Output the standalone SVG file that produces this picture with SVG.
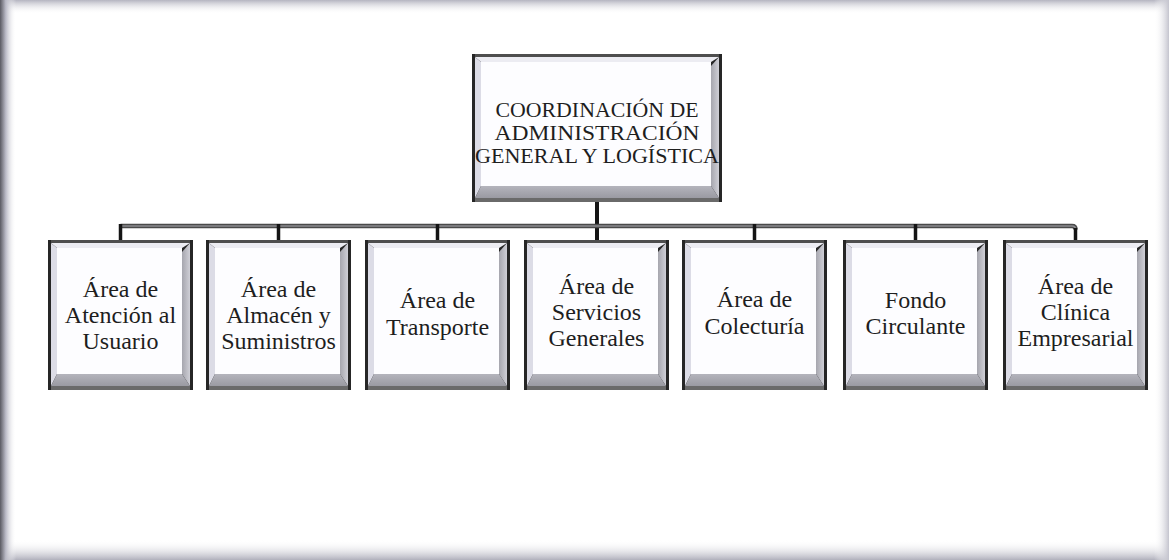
<svg xmlns="http://www.w3.org/2000/svg" xmlns:xlink="http://www.w3.org/1999/xlink" width="1169" height="560" viewBox="0 0 1169 560">
  <style>
    .lbl { font-family: "Liberation Serif", "DejaVu Serif", serif; font-size: 24px; fill: #1e1e1e; text-anchor: middle; }
    .top { font-family: "Liberation Serif", "DejaVu Serif", serif; font-size: 20px; fill: #1e1e1e; text-anchor: middle; }
    .hline { fill: none; stroke: #4a4a4a; stroke-width: 4.5; stroke-linejoin: round; }
    .hline2 { fill: none; stroke: #8c8c90; stroke-width: 1.6; stroke-linejoin: round; }
    .drop { stroke: #151515; stroke-width: 3.5; }
  </style>
  <defs>
    <linearGradient id="leftEdge" x1="0" y1="0" x2="1" y2="0">
      <stop offset="0" stop-color="#5a5a62"/>
      <stop offset="0.35" stop-color="#b8b8c4"/>
      <stop offset="1" stop-color="#ffffff" stop-opacity="0"/>
    </linearGradient>
    <linearGradient id="topEdge" x1="0" y1="0" x2="0" y2="1">
      <stop offset="0" stop-color="#b4b4c0"/>
      <stop offset="1" stop-color="#ffffff" stop-opacity="0"/>
    </linearGradient>
    <linearGradient id="botEdge" x1="0" y1="1" x2="0" y2="0">
      <stop offset="0" stop-color="#b0b0bc"/>
      <stop offset="1" stop-color="#ffffff" stop-opacity="0"/>
    </linearGradient>
    <linearGradient id="rightEdge" x1="1" y1="0" x2="0" y2="0">
      <stop offset="0" stop-color="#c4c4ce"/>
      <stop offset="1" stop-color="#ffffff" stop-opacity="0"/>
    </linearGradient>
    <linearGradient id="rbev" x1="0" y1="0" x2="1" y2="0">
      <stop offset="0" stop-color="#a6a6ae"/>
      <stop offset="1" stop-color="#cfcfd6"/>
    </linearGradient>
    <linearGradient id="bbev" x1="0" y1="0" x2="0" y2="1">
      <stop offset="0" stop-color="#b4b4bc"/>
      <stop offset="1" stop-color="#9a9aa2"/>
    </linearGradient>
    <g id="childbox">
      <rect x="0" y="0" width="145" height="150" fill="#262626"/>
      <rect x="3" y="0" width="139" height="3" fill="#4e4e4e"/>
      <rect x="3" y="146" width="139" height="4" fill="#6a6a6a"/>
      <polygon points="3,3 142,3 134,8 9,8" fill="#ececf2"/>
      <polygon points="3,3 9,8 9,134 3,146" fill="#dcdce6"/>
      <polygon points="142,3 142,146 134,134 134,12" fill="url(#rbev)"/>
      <polygon points="3,146 142,146 134,134 9,134" fill="url(#bbev)"/>
      <rect x="9" y="8" width="125" height="126" fill="#fdfdff"/>
    </g>
  </defs>

  <!-- page -->
  <rect x="0" y="0" width="1169" height="560" fill="#ffffff"/>
  <rect x="0" y="0" width="1169" height="14" fill="url(#topEdge)"/>
  <rect x="0" y="540" width="1169" height="20" fill="url(#botEdge)"/>
  <rect x="1154" y="0" width="15" height="560" fill="url(#rightEdge)"/>
  <rect x="0" y="0" width="16" height="560" fill="url(#leftEdge)"/>

  <!-- connectors -->
  <g id="connectors">
    <line class="drop" x1="597" y1="202" x2="597" y2="240" style="stroke-width:4"/>
    <path class="hline" d="M120.5,226 H1072 Q1075.5,226 1075.5,229.5"/>
    <path class="hline2" d="M120.5,226 H1072 Q1075.5,226 1075.5,229.5"/>
    <line class="drop" x1="120.5" y1="224" x2="120.5" y2="240"/>
    <line class="drop" x1="278.5" y1="224" x2="278.5" y2="240"/>
    <line class="drop" x1="437.5" y1="224" x2="437.5" y2="240"/>
    <line class="drop" x1="754.5" y1="224" x2="754.5" y2="240"/>
    <line class="drop" x1="915.5" y1="224" x2="915.5" y2="240"/>
    <line class="drop" x1="1075.5" y1="228" x2="1075.5" y2="240"/>
  </g>

  <!-- top node -->
  <g id="node-coordinacion">
    <rect x="472" y="54" width="250" height="148" fill="#262626"/>
    <rect x="475" y="54" width="244" height="3" fill="#4e4e4e"/>
    <rect x="475" y="198" width="244" height="4" fill="#6a6a6a"/>
    <polygon points="475,57 719,57 711,62 481,62" fill="#ececf2"/>
    <polygon points="475,57 481,62 481,186 475,198" fill="#dcdce6"/>
    <polygon points="719,57 719,198 711,186 711,66" fill="url(#rbev)"/>
    <polygon points="475,198 719,198 711,186 481,186" fill="url(#bbev)"/>
    <rect x="481" y="62" width="230" height="124" fill="#fdfdff"/>
    <text class="top" x="597" y="117" textLength="203" lengthAdjust="spacingAndGlyphs">COORDINACIÓN DE</text>
    <text class="top" x="597" y="140" textLength="205" lengthAdjust="spacingAndGlyphs">ADMINISTRACIÓN</text>
    <text class="top" x="597" y="163" textLength="244" lengthAdjust="spacingAndGlyphs">GENERAL Y LOGÍSTICA</text>
  </g>

  <!-- child nodes -->
  <g id="node-atencion">
    <use xlink:href="#childbox" x="48" y="240"/>
    <text class="lbl" x="120.5" y="297">Área de</text>
    <text class="lbl" x="120.5" y="323">Atención al</text>
    <text class="lbl" x="120.5" y="349">Usuario</text>
  </g>
  <g id="node-almacen">
    <use xlink:href="#childbox" x="206" y="240"/>
    <text class="lbl" x="278.5" y="297">Área de</text>
    <text class="lbl" x="278.5" y="323">Almacén y</text>
    <text class="lbl" x="278.5" y="349">Suministros</text>
  </g>
  <g id="node-transporte">
    <use xlink:href="#childbox" x="365" y="240"/>
    <text class="lbl" x="437.5" y="308">Área de</text>
    <text class="lbl" x="437.5" y="335">Transporte</text>
  </g>
  <g id="node-servicios">
    <use xlink:href="#childbox" x="524" y="240"/>
    <text class="lbl" x="596.5" y="294">Área de</text>
    <text class="lbl" x="596.5" y="320">Servicios</text>
    <text class="lbl" x="596.5" y="346">Generales</text>
  </g>
  <g id="node-colecturia">
    <use xlink:href="#childbox" x="682" y="240"/>
    <text class="lbl" x="754.5" y="307">Área de</text>
    <text class="lbl" x="754.5" y="334">Colecturía</text>
  </g>
  <g id="node-fondo">
    <use xlink:href="#childbox" x="843" y="240"/>
    <text class="lbl" x="915.5" y="308">Fondo</text>
    <text class="lbl" x="915.5" y="334">Circulante</text>
  </g>
  <g id="node-clinica">
    <use xlink:href="#childbox" x="1003" y="240"/>
    <text class="lbl" x="1075.5" y="294">Área de</text>
    <text class="lbl" x="1075.5" y="320">Clínica</text>
    <text class="lbl" x="1075.5" y="346">Empresarial</text>
  </g>
</svg>
